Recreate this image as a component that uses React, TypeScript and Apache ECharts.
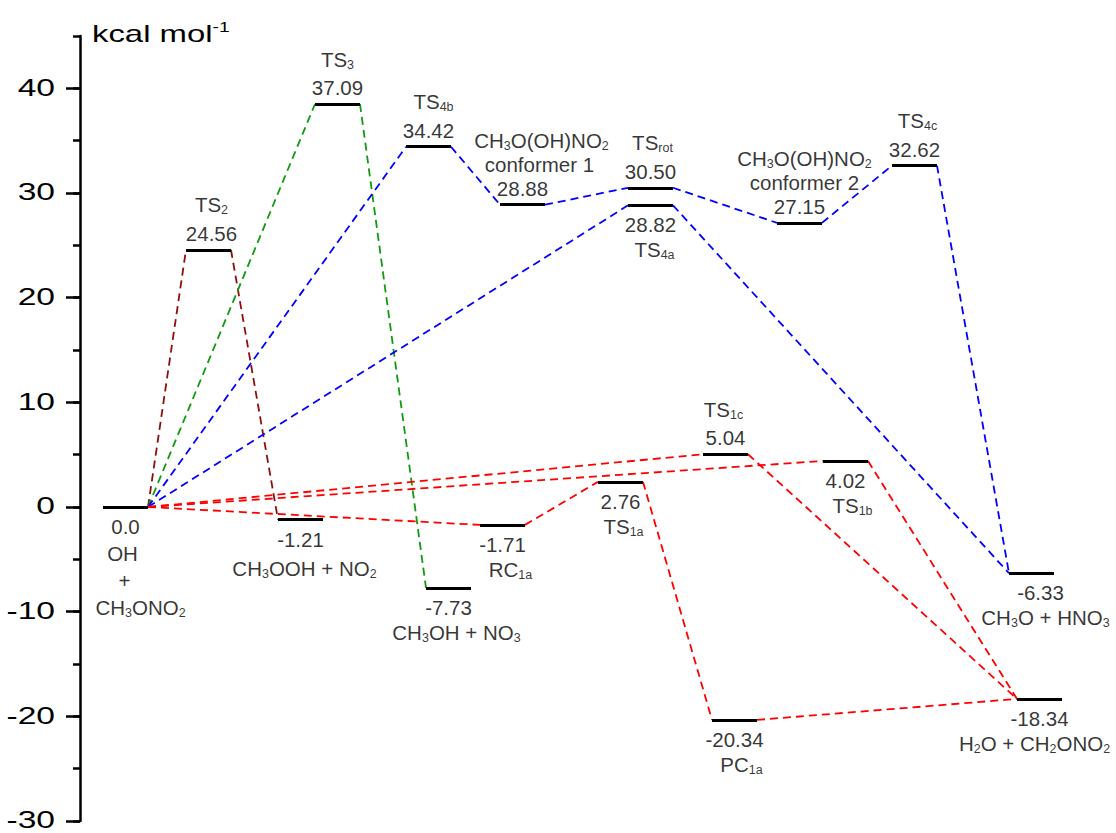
import React, { useEffect, useRef } from 'react';
import * as echarts from 'echarts';

// ---------------- data ----------------
// energy levels (reaction coordinate start of each level bar, drawn energy in kcal/mol)
const levelIds = ['R', 'TS2', 'P2', 'TS3', 'TS4b', 'P3', 'RC1a', 'C1', 'TS1a', 'TSrot', 'TS4a', 'TS1c', 'PC1a', 'C2', 'TS1b', 'TS4c', 'P4', 'P1'];
const levelStart = [23, 106, 198, 235, 326, 346, 400, 420, 518, 548, 548, 623, 632, 697, 743, 812, 929, 937];
const levelEnergy = [0, 24.56, -1.21, 38.5, 34.42, -7.73, -1.71, 28.88, 2.4, 30.5, 28.82, 5.04, -20.34, 27.15, 4.4, 32.62, -6.33, -18.34];
const levelValueText = ['0.0', '24.56', '-1.21', '37.09', '34.42', '-7.73', '-1.71', '28.88', '2.76', '30.50', '28.82', '5.04', '-20.34', '27.15', '4.02', '32.62', '-6.33', '-18.34'];
const levelNames = [
  ['OH', '+', 'CH_{3}ONO_{2}'],
  ['TS_{2}'],
  ['CH_{3}OOH + NO_{2}'],
  ['TS_{3}'],
  ['TS_{4b}'],
  ['CH_{3}OH + NO_{3}'],
  ['RC_{1a}'],
  ['conformer 1', 'CH_{3}O(OH)NO_{2}'],
  ['TS_{1a}'],
  ['TS_{rot}'],
  ['TS_{4a}'],
  ['TS_{1c}'],
  ['PC_{1a}'],
  ['conformer 2', 'CH_{3}O(OH)NO_{2}'],
  ['TS_{1b}'],
  ['TS_{4c}'],
  ['CH_{3}O + HNO_{3}'],
  ['H_{2}O + CH_{2}ONO_{2}'],
];
const levelSide = ['bottom', 'top', 'bottom', 'top', 'top', 'bottom', 'bottom', 'top', 'bottom', 'top', 'bottom', 'top', 'bottom', 'top', 'bottom', 'top', 'bottom', 'bottom'];

// reaction pathways (sequences of levels)
const pathwayDarkRed = [['R', 'TS2', 'P2']];
const pathwayGreen = [['R', 'TS3', 'P3']];
const pathwayBlue = [['R', 'TS4b', 'C1', 'TSrot', 'C2', 'TS4c', 'P4'], ['R', 'TS4a', 'P4']];
const pathwayRed = [['R', 'RC1a', 'TS1a', 'PC1a', 'P1'], ['R', 'TS1c', 'P1'], ['R', 'TS1b', 'P1']];

// axis
const yTickValues = [-30, -20, -10, 0, 10, 20, 30, 40];
const yTickLabels = ['-30', '-20', '-10', '0', '10', '20', '30', '40'];
const yMin = -30;
const yMax = 45;
const xMax = 1036;

// ---------------- layout / style ----------------
const BAR_W = 45;
const FONT = '"Liberation Sans", Arial, Helvetica, sans-serif';
const COLORS = { darkred: '#8E0E0E', green: '#119A11', blue: '#0000FF', red: '#FF0000' };
const TOP_VALUE = 16.5;
const TOP_PITCH = 28.5;
const BOTTOM_VALUE = 19.5;
const BOTTOM_PITCH = 25;
const pitchOverride: Record<string, number> = { C1: 24, C2: 24, P2: 29, R: 27 };
const valueDx: Record<string, number> = { TS2: 3, P4: 9 };
const nameDx: Record<string, number[]> = {
  R: [-3, -1, 15], TS2: [3], P2: [4], TS4b: [5], P3: [8], RC1a: [8], C1: [17, 19], TS1a: [3],
  TSrot: [2], TS4a: [4], TS1c: [-2], PC1a: [7], C2: [5, 5], TS1b: [7], TS4c: [3], P4: [14], P1: [-5],
};

function toRich(s: string): string {
  const parts: string[] = [];
  const re = /_\{([^}]*)\}/g;
  let last = 0;
  let m: RegExpExecArray | null;
  while ((m = re.exec(s))) {
    if (m.index > last) parts.push(`{n|${s.slice(last, m.index)}}`);
    parts.push(`{s|${m[1]}}`);
    last = re.lastIndex;
  }
  if (last < s.length) parts.push(`{n|${s.slice(last)}}`);
  return parts.join('');
}

function idx(id: string) {
  return levelIds.indexOf(id);
}

function connectorData(paths: string[][]) {
  const out: any[] = [];
  paths.forEach((p) => {
    for (let k = 0; k < p.length - 1; k++) {
      const a = idx(p[k]);
      const b = idx(p[k + 1]);
      out.push({ coords: [[levelStart[a] + BAR_W, levelEnergy[a]], [levelStart[b], levelEnergy[b]]] });
    }
  });
  return out;
}

function buildLabels() {
  const data: any[] = [];
  levelIds.forEach((id, i) => {
    const cx = levelStart[i] + BAR_W / 2;
    const cy = levelEnergy[i];
    const top = levelSide[i] === 'top';
    const first = top ? TOP_VALUE : BOTTOM_VALUE;
    const pitch = pitchOverride[id] ?? (top ? TOP_PITCH : BOTTOM_PITCH);
    const sign = top ? -1 : 1;
    data.push({
      value: [cx, cy],
      name: toRich(levelValueText[i]),
      label: { offset: [valueDx[id] ?? 0, sign * first] },
    });
    levelNames[i].forEach((t, j) => {
      const dx = (nameDx[id] && nameDx[id][j]) ?? 0;
      data.push({
        value: [cx, cy],
        name: toRich(t),
        label: { offset: [dx, sign * (first + pitch * (j + 1))] },
      });
    });
  });
  return data;
}

function dashedSeries(paths: string[][], color: string) {
  return {
    type: 'lines',
    coordinateSystem: 'cartesian2d',
    silent: true,
    z: 3,
    lineStyle: { color, width: 1.8, type: [8, 5], opacity: 1 },
    data: connectorData(paths),
  };
}

export default function App() {
  const ref = useRef<HTMLDivElement>(null);

  useEffect(() => {
    if (!ref.current) return;
    const chart = echarts.init(ref.current, null, { renderer: 'svg' });
    const option: any = {
      animation: false,
      backgroundColor: '#fff',
      grid: { left: 80, right: 0, top: 36, bottom: 12, containLabel: false, outerBoundsMode: 'none' },
      xAxis: { type: 'value', min: 0, max: xMax, show: false },
      yAxis: [
        {
          type: 'value',
          min: yMin,
          max: yMax,
          interval: 10,
          position: 'left',
          axisLine: { show: true, lineStyle: { color: '#000', width: 2.5 } },
          axisTick: { show: true, length: 14, lineStyle: { color: '#000', width: 2.5 }, customValues: yTickValues },
          axisLabel: { show: false },
          splitLine: { show: false },
        },
        {
          type: 'value',
          min: yMin,
          max: yMax,
          interval: 5,
          position: 'left',
          axisLine: { show: false },
          axisTick: { show: true, length: 7, lineStyle: { color: '#000', width: 2.5 } },
          axisLabel: { show: false },
          splitLine: { show: false },
        },
      ],
      series: [
        dashedSeries(pathwayDarkRed, COLORS.darkred),
        dashedSeries(pathwayGreen, COLORS.green),
        dashedSeries(pathwayBlue, COLORS.blue),
        dashedSeries(pathwayRed, COLORS.red),
        {
          type: 'lines',
          coordinateSystem: 'cartesian2d',
          silent: true,
          z: 5,
          lineStyle: { color: '#000', width: 3.2, opacity: 1 },
          data: levelIds.map((_, i) => ({
            coords: [[levelStart[i], levelEnergy[i]], [levelStart[i] + BAR_W, levelEnergy[i]]],
          })),
        },
        {
          type: 'scatter',
          silent: true,
          z: 6,
          symbolSize: 0,
          itemStyle: { color: 'transparent' },
          label: {
            show: true,
            position: 'inside',
            formatter: (p: any) => p.name,
            rich: {
              n: { fontSize: 20.5, fontFamily: FONT, color: '#000', lineHeight: 24 },
              s: { fontSize: 12.5, fontFamily: FONT, color: '#000', lineHeight: 10, verticalAlign: 'bottom' },
            },
          },
          data: buildLabels(),
        },
      ],
    };
    chart.setOption(option);

    const axisX = chart.convertToPixel({ xAxisIndex: 0 }, 0) as number;
    const topY = chart.convertToPixel({ yAxisIndex: 0 }, yMax) as number;
    const graphics: any[] = yTickValues.map((v, i) => ({
      type: 'text',
      x: axisX - 25,
      y: (chart.convertToPixel({ yAxisIndex: 0 }, v) as number) - 1,
      scaleX: 1.4,
      silent: true,
      style: {
        text: yTickLabels[i],
        fontSize: 24,
        fontFamily: FONT,
        fill: '#000',
        align: 'right',
        verticalAlign: 'middle',
      },
    }));
    graphics.push({
      type: 'text',
      x: axisX + 12,
      y: topY - 2,
      scaleX: 1.37,
      silent: true,
      style: {
        text: '{n|kcal mol}{sup|-1}',
        align: 'left',
        verticalAlign: 'middle',
        rich: {
          n: { fontSize: 24, fontFamily: FONT, fill: '#000', lineHeight: 28 },
          sup: { fontSize: 14, fontFamily: FONT, fill: '#000', lineHeight: 14, verticalAlign: 'top' },
        },
      },
    });
    chart.setOption({ graphic: graphics });

    return () => chart.dispose();
  }, []);

  return (
    <div
      ref={ref}
      style={{ position: 'absolute', left: 0, top: 0, width: 1116, height: 833, background: '#fff' }}
    />
  );
}
